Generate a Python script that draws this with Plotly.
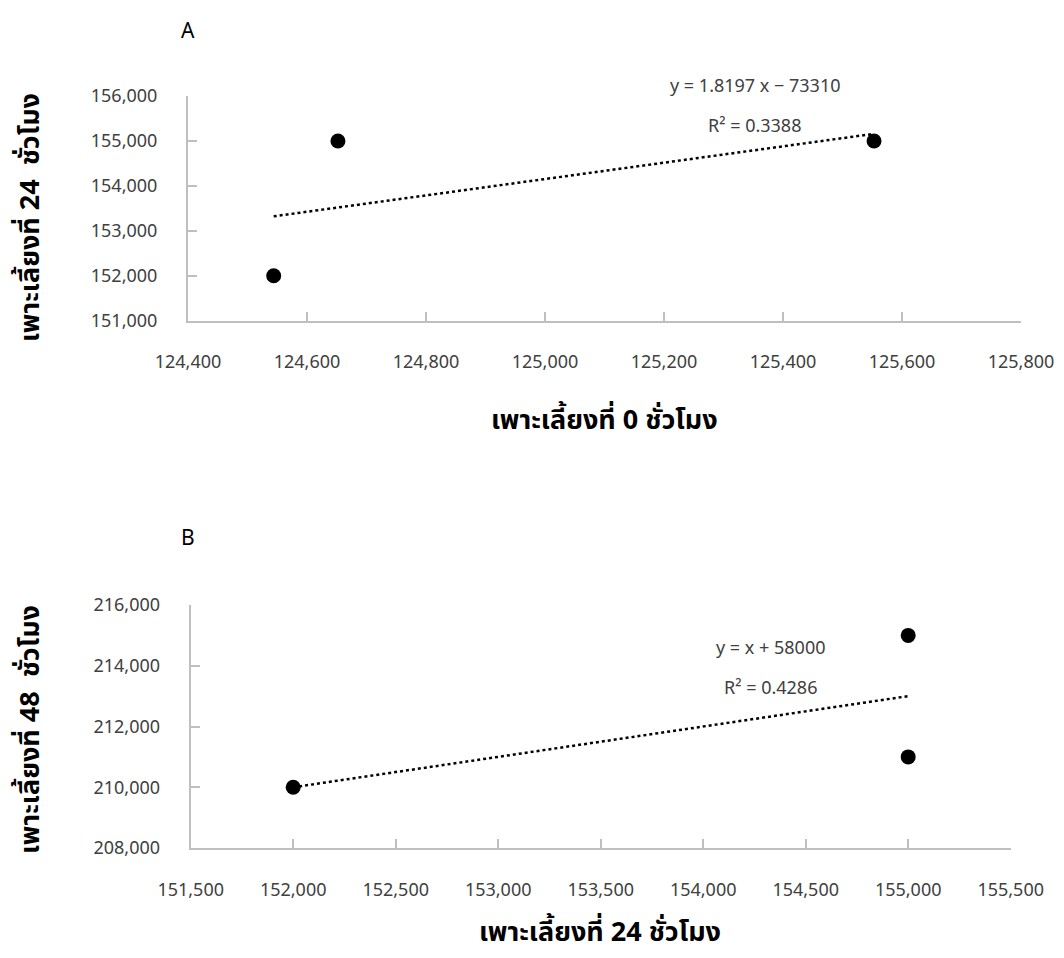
import numpy as np
import plotly.graph_objects as go

# Panel A data
a_x = [124544, 124652, 125553]
a_y = [152000, 155000, 155000]
a_eq = "y = 1.8197 x − 73310"
a_r2 = "R² = 0.3388"
a_xticks = [124400, 124600, 124800, 125000, 125200, 125400, 125600, 125800]
a_yticks = [151000, 152000, 153000, 154000, 155000, 156000]
a_xtitle = "เพาะเลี้ยงที่ 0 ชั่วโมง"
a_ytitle = "เพาะเลี้ยงที่ 24  ชั่วโมง"

# Panel B data
b_x = [152000, 155000, 155000]
b_y = [210000, 215000, 211000]
b_eq = "y = x + 58000"
b_r2 = "R² = 0.4286"
b_xticks = [151500, 152000, 152500, 153000, 153500, 154000, 154500, 155000, 155500]
b_yticks = [208000, 210000, 212000, 214000, 216000]
b_xtitle = "เพาะเลี้ยงที่ 24 ชั่วโมง"
b_ytitle = "เพาะเลี้ยงที่ 48  ชั่วโมง"

OFF = 8  # page body margin
W, H = 1064 - OFF, 958 - OFF
FONT = "Noto Sans, Noto Sans Thai, sans-serif"
TXT = "#404040"
AX = "#bfbfbf"

def trend(xs, ys):
    m, c = np.polyfit(xs, ys, 1)
    x0, x1 = min(xs), max(xs)
    return [x0, x1], [m * x0 + c, m * x1 + c]

fig = go.Figure()

for xs, ys, xa, ya in [(a_x, a_y, "x", "y"), (b_x, b_y, "x2", "y2")]:
    tx, ty = trend(xs, ys)
    fig.add_trace(go.Scatter(x=tx, y=ty, mode="lines", xaxis=xa, yaxis=ya,
                             line=dict(color="black", width=2.5, dash="dot"),
                             showlegend=False, hoverinfo="skip"))
    fig.add_trace(go.Scatter(x=xs, y=ys, mode="markers", xaxis=xa, yaxis=ya,
                             marker=dict(color="black", size=15),
                             showlegend=False))

def px_x(p):
    return (p - OFF) / W

def px_y(p):
    return 1 - (p - OFF) / H

axis_common = dict(showgrid=False, zeroline=False, showline=True, linecolor=AX, linewidth=2,
                   ticks="inside", ticklen=9, tickwidth=1.5, tickcolor=AX,
                   tickfont=dict(family=FONT, size=18, color=TXT), tickformat=",d",
                   fixedrange=True, automargin=False)

fig.update_layout(
    template="none",
    width=W, height=H, margin=dict(l=0, r=0, t=0, b=0, pad=0, autoexpand=False),
    paper_bgcolor="white", plot_bgcolor="white",
    xaxis=dict(domain=[px_x(188), px_x(1021)], range=[a_xticks[0], a_xticks[-1]],
               tickvals=a_xticks, anchor="y", ticklabelstandoff=24, **axis_common),
    yaxis=dict(domain=[px_y(320.7), px_y(96)], range=[a_yticks[0], a_yticks[-1]],
               tickvals=a_yticks, anchor="x", ticklabelstandoff=25, **axis_common),
    xaxis2=dict(domain=[px_x(190.7), px_x(1010.7)], range=[b_xticks[0], b_xticks[-1]],
                tickvals=b_xticks, anchor="y2", ticklabelstandoff=24, **axis_common),
    yaxis2=dict(domain=[px_y(848), px_y(605)], range=[b_yticks[0], b_yticks[-1]],
                tickvals=b_yticks, anchor="x2", ticklabelstandoff=25, **axis_common),
)

ann = []
def add(text, x, y, size, bold=False, angle=0, color="black"):
    ann.append(dict(text=f"<b>{text}</b>" if bold else text, x=px_x(x), y=px_y(y),
                    xref="paper", yref="paper", showarrow=False, textangle=angle,
                    xanchor="center", yanchor="middle",
                    font=dict(family=FONT, size=size, color=color)))

add("A", 188, 30, 21, color="black")
add("B", 188, 537, 21, color="black")
add(a_eq, 755, 85, 18, color=TXT)
add(a_r2, 754, 125, 18, color=TXT)
add(b_eq, 771, 647, 18, color=TXT)
add(b_r2, 770, 687, 18, color=TXT)
add(a_xtitle, 604, 418, 27, bold=True)
add(b_xtitle, 600, 930, 27, bold=True)
add(a_ytitle, 28, 218, 27, bold=True, angle=-90)
add(b_ytitle, 28, 730, 27, bold=True, angle=-90)
fig.update_layout(annotations=ann)

fig.write_html("out.html")
